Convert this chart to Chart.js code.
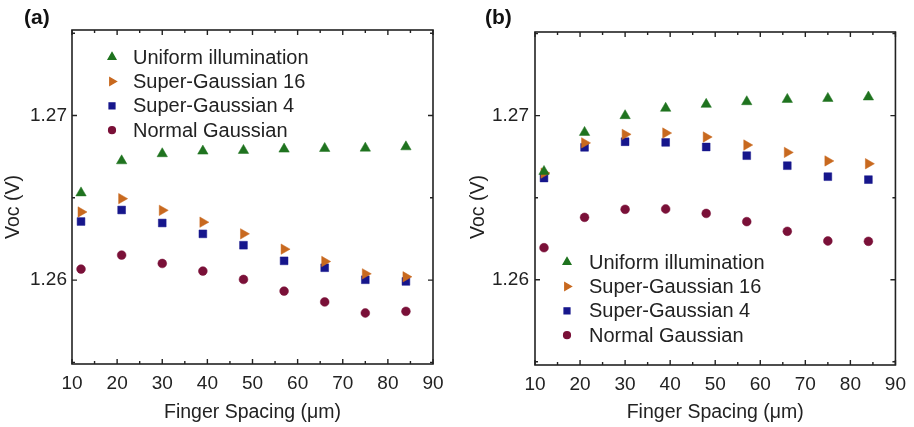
<!DOCTYPE html>
<html lang="en">
<head>
    <meta charset="UTF-8">
    <title>Voc vs Finger Spacing</title>
    <style>
        body {
            margin: 0;
            background: #fff;
            font-family: "Liberation Sans", Arial, sans-serif;
        }
        .panel {
            position: absolute;
            top: 0;
            width: 457px;
            height: 427px;
        }
        #panelA { left: 0; }
        #panelB { left: 457px; }
    </style>
</head>
<body>
    <div class="panel" id="panelA"><canvas id="chartA" width="457" height="427"></canvas></div>
    <div class="panel" id="panelB"><canvas id="chartB" width="457" height="427"></canvas></div>

    <script src="https://cdn.jsdelivr.net/npm/chart.js@4"></script>
    <script>
        // finger spacing (um) - same for every series
        const spacing = [12, 21, 30, 39, 48, 57, 66, 75, 84];
        const seriesNames = ['Uniform illumination', 'Super-Gaussian 16', 'Super-Gaussian 4', 'Normal Gaussian'];

        // panel (a)
        const uniformA = [1.2653, 1.26725, 1.26768, 1.26784, 1.26788, 1.26796, 1.2680, 1.26802, 1.2681];
        const sg16A    = [1.26414, 1.26495, 1.26424, 1.26352, 1.26281, 1.26188, 1.26113, 1.26038, 1.2602];
        const sg4A     = [1.26356, 1.26426, 1.26347, 1.26281, 1.26212, 1.26117, 1.26075, 1.26002, 1.25992];
        const gaussA   = [1.26067, 1.26152, 1.26101, 1.26055, 1.26004, 1.25933, 1.25867, 1.2580, 1.2581];

        // panel (b)
        const uniformB = [1.2666, 1.26898, 1.2700, 1.27045, 1.27069, 1.27085, 1.27099, 1.27105, 1.27114];
        const sg16B    = [1.2665, 1.26834, 1.26886, 1.26894, 1.2687, 1.26821, 1.26776, 1.26724, 1.26707];
        const sg4B     = [1.2662, 1.26807, 1.26841, 1.26837, 1.26809, 1.26756, 1.26695, 1.26628, 1.2661];
        const gaussB   = [1.26195, 1.2638, 1.26429, 1.26431, 1.26404, 1.26354, 1.26295, 1.26236, 1.26234];

        const colors = ['#1f731f', '#c8691f', '#16168c', '#7a1038'];
        const styles = [
            { pointStyle: 'triangle', rotation: 0,  radius: 6.0, legendRadius: 4.4 },
            { pointStyle: 'triangle', rotation: 90, radius: 6.0, legendRadius: 4.4 },
            { pointStyle: 'rect',     rotation: 0,  radius: 5.5, legendRadius: 4.1 },
            { pointStyle: 'circle',   rotation: 0,  radius: 4.4, legendRadius: 3.4 }
        ];

        const isMajor = (v, step) => Math.abs(v / step - Math.round(v / step)) < 1e-6;

        // frame, inward ticks on all four sides, y title, legend and panel letter
        const framePlugin = {
            id: 'frame',
            afterDraw(chart, args, opts) {
                const ctx = chart.ctx;
                const a = chart.chartArea;
                const xs = chart.scales.x;
                const ys = chart.scales.y;
                ctx.save();
                ctx.strokeStyle = '#222';
                ctx.lineWidth = 1.6;
                ctx.strokeRect(a.left, a.top, a.right - a.left, a.bottom - a.top);

                ctx.lineWidth = 1.4;
                ctx.beginPath();
                xs.ticks.forEach(t => {
                    const x = xs.getPixelForValue(t.value);
                    const len = isMajor(t.value, 10) ? 5 : 3;
                    ctx.moveTo(x, a.bottom); ctx.lineTo(x, a.bottom - len);
                    ctx.moveTo(x, a.top); ctx.lineTo(x, a.top + len);
                });
                ys.ticks.forEach(t => {
                    const y = ys.getPixelForValue(t.value);
                    const len = isMajor(t.value, 0.01) ? 5 : 3;
                    ctx.moveTo(a.left, y); ctx.lineTo(a.left + len, y);
                    ctx.moveTo(a.right, y); ctx.lineTo(a.right - len, y);
                });
                ctx.stroke();

                // y axis title
                ctx.save();
                ctx.translate(opts.yTitleX, opts.yTitleY);
                ctx.rotate(-Math.PI / 2);
                ctx.font = '19.5px "Liberation Sans", Arial, sans-serif';
                ctx.fillStyle = '#222';
                ctx.textAlign = 'center';
                ctx.textBaseline = 'middle';
                ctx.fillText('Voc (V)', 0, 0);
                ctx.restore();

                // legend
                ctx.font = '20px "Liberation Sans", Arial, sans-serif';
                ctx.textBaseline = 'middle';
                ctx.textAlign = 'left';
                chart.data.datasets.forEach((ds, i) => {
                    const y = opts.legendY + i * opts.legendGap;
                    const st = styles[i];
                    ctx.fillStyle = colors[i];
                    ctx.strokeStyle = colors[i];
                    Chart.helpers.drawPoint(ctx, {
                        pointStyle: st.pointStyle,
                        rotation: st.rotation,
                        radius: st.legendRadius,
                        borderWidth: 0.5
                    }, opts.legendX, y);
                    ctx.fillStyle = '#222';
                    ctx.fillText(ds.label, opts.legendTextX, y + 1);
                });

                // panel letter
                ctx.font = 'bold 21px "Liberation Sans", Arial, sans-serif';
                ctx.fillStyle = '#111';
                ctx.fillText(opts.letter, opts.letterX, opts.letterY);
                ctx.restore();
            }
        };

        function makeChart(id, values, layout) {
            const datasets = values.map((vals, i) => ({
                label: seriesNames[i],
                data: spacing.map((s, j) => ({ x: s, y: vals[j] })),
                backgroundColor: colors[i],
                borderColor: colors[i],
                pointStyle: styles[i].pointStyle,
                rotation: styles[i].rotation,
                pointRadius: styles[i].radius,
                pointBorderWidth: 0.5,
                showLine: false
            }));

            const tickFont = { family: '"Liberation Sans", Arial, sans-serif', size: 19 };

            return new Chart(document.getElementById(id), {
                type: 'scatter',
                data: { datasets: datasets },
                options: {
                    responsive: false,
                    animation: false,
                    layout: { padding: { left: 0, top: layout.top, right: layout.right, bottom: 0 } },
                    scales: {
                        x: {
                            type: 'linear',
                            min: 10,
                            max: 90,
                            grid: { display: false, drawTicks: false },
                            border: { display: false },
                            ticks: {
                                stepSize: 5,
                                autoSkip: false,
                                maxRotation: 0,
                                padding: 8,
                                color: '#222',
                                font: tickFont,
                                callback: v => isMajor(v, 10) ? String(Math.round(v)) : ''
                            },
                            title: {
                                display: true,
                                text: 'Finger Spacing (\u03bcm)',
                                color: '#222',
                                font: { family: tickFont.family, size: 19.5 },
                                padding: { top: 0, bottom: 3 }
                            },
                            afterFit: s => { s.height = layout.xHeight; }
                        },
                        y: {
                            type: 'linear',
                            min: layout.yMin,
                            max: layout.yMax,
                            grid: { display: false, drawTicks: false },
                            border: { display: false },
                            ticks: {
                                stepSize: 0.005,
                                includeBounds: false,
                                autoSkip: false,
                                padding: layout.yTickPad,
                                color: '#222',
                                font: tickFont,
                                callback: v => isMajor(v, 0.01) ? v.toFixed(2) : ''
                            },
                            title: { display: false },
                            afterFit: s => { s.width = layout.yWidth; }
                        }
                    },
                    plugins: {
                        legend: { display: false },
                        tooltip: { enabled: false },
                        frame: {
                            legendX: layout.legendX,
                            legendTextX: layout.legendTextX,
                            legendY: layout.legendY,
                            legendGap: layout.legendGap,
                            letter: layout.letter,
                            letterX: layout.letterX,
                            letterY: layout.letterY,
                            yTitleX: layout.yTitleX,
                            yTitleY: layout.yTitleY
                        }
                    }
                },
                plugins: [framePlugin]
            });
        }

        makeChart('chartA', [uniformA, sg16A, sg4A, gaussA], {
            top: 30, right: 24, xHeight: 63, yWidth: 72,
            yMin: 1.2549, yMax: 1.2752, yTickPad: 5,
            yTitleX: 14, yTitleY: 207,
            legendX: 112, legendTextX: 133, legendY: 57, legendGap: 24.4,
            letter: '(a)', letterX: 24, letterY: 18
        });

        makeChart('chartB', [uniformB, sg16B, sg4B, gaussB], {
            top: 32, right: 17, xHeight: 62, yWidth: 78,
            yMin: 1.2548, yMax: 1.2751, yTickPad: 6,
            yTitleX: 22, yTitleY: 207,
            legendX: 110, legendTextX: 132, legendY: 262, legendGap: 24.4,
            letter: '(b)', letterX: 28, letterY: 18
        });
    </script>
</body>
</html>
